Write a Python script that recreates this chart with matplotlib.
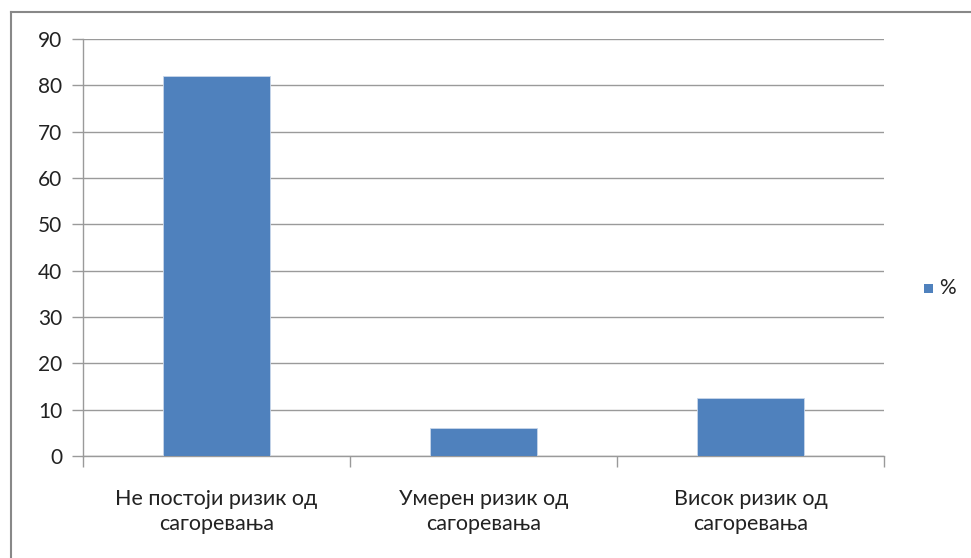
import matplotlib
matplotlib.use("Agg")
import matplotlib.pyplot as plt
from matplotlib.patches import Rectangle
from matplotlib.lines import Line2D

categories = ["Не постоји ризик од\nсагоревања", "Умерен ризик од\nсагоревања", "Висок ризик од\nсагоревања"]
values = [82, 6, 12.5]
series_name = "%"
yticks = [0, 10, 20, 30, 40, 50, 60, 70, 80, 90]

plt.rcParams['font.family'] = ['Lato', 'DejaVu Sans']

W, H = 971, 558
fig = plt.figure(figsize=(W / 100, H / 100), dpi=100)
ax = fig.add_axes([83 / W, 1 - 456 / H, (884 - 83) / W, (456 - 39) / H])

bar_color = "#4F81BD"
grid_color = "#9a9a9a"
text_color = "#222222"
x = list(range(len(categories)))
ax.bar(x, values, width=0.4, color=bar_color, edgecolor="#c8d6ea", linewidth=0.6, zorder=3)

ax.set_xlim(-0.5, len(categories) - 0.5)
ax.set_ylim(0, 90)
ax.set_yticks(yticks)
ax.set_yticklabels([str(t) for t in yticks], fontsize=15, color=text_color)
ax.yaxis.grid(True, color=grid_color, linewidth=1.0, zorder=0)
ax.tick_params(axis='y', length=8, width=1, color=grid_color, pad=7, direction='out')

ax.set_xticks(x)
ax.set_xticklabels(categories, fontsize=15.5, color=text_color, linespacing=1.3)
ax.tick_params(axis='x', length=0, pad=24)
ax.set_xticks([i - 0.5 for i in range(len(categories) + 1)], minor=True)
ax.tick_params(axis='x', which='minor', length=8, width=1, color=grid_color, direction='out')

for s in ["top", "right"]:
    ax.spines[s].set_visible(False)
for s in ["left", "bottom"]:
    ax.spines[s].set_color(grid_color)
    ax.spines[s].set_linewidth(1.0)

# legend
fig.patches.append(Rectangle((924 / W, 1 - 293 / H), 9 / W, 9 / H, transform=fig.transFigure,
                             facecolor=bar_color, edgecolor="none"))
fig.text(939 / W, 1 - 288 / H, series_name, fontsize=15, va='center', ha='left', color=text_color)

# outer frame
fig.lines.append(Line2D([10.5 / W, 10.5 / W], [0, 1 - 11.5 / H], transform=fig.transFigure, color="#888888", linewidth=1.5))
fig.lines.append(Line2D([10.5 / W, 1], [1 - 11.5 / H, 1 - 11.5 / H], transform=fig.transFigure, color="#888888", linewidth=1.5))

fig.savefig("out.png", dpi=100)
